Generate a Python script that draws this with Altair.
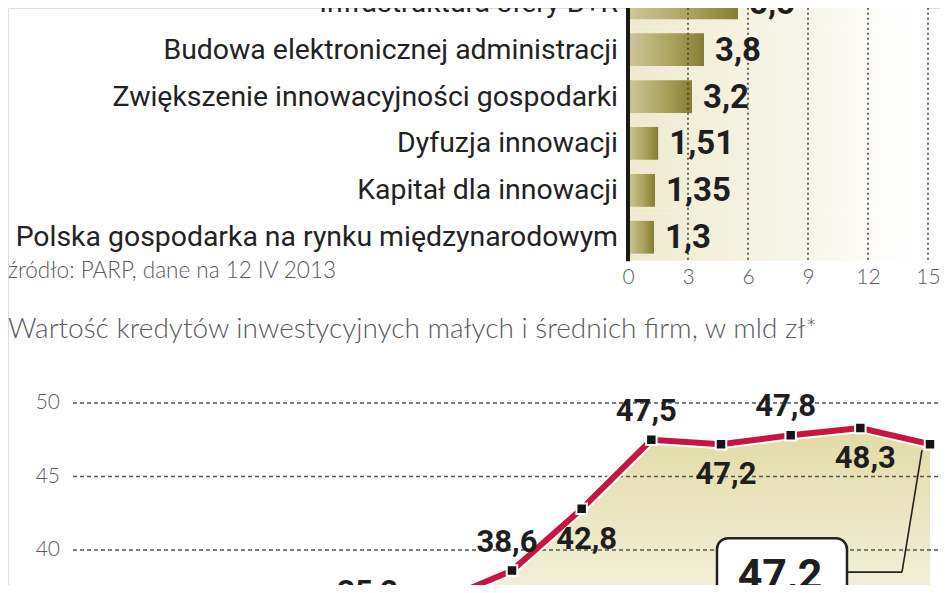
import altair as alt
import pandas as pd

# ---------------- data ----------------
bar_categories = [
    "Infrastruktura sfery B+R",
    "Budowa elektronicznej administracji",
    "Zwiększenie innowacyjności gospodarki",
    "Dyfuzja innowacji",
    "Kapitał dla innowacji",
    "Polska gospodarka na rynku międzynarodowym",
]
bar_values = [5.5, 3.8, 3.2, 1.51, 1.35, 1.3]
bar_ticks = [0, 3, 6, 9, 12, 15]

periods = [
    "I kw. 2010", "II kw. 2010", "III kw. 2010", "IV kw. 2010",
    "I kw. 2011", "II kw. 2011", "III kw. 2011", "IV kw. 2011",
    "I kw. 2012", "II kw. 2012", "III kw. 2012", "IV kw. 2012",
    "I kw. 2013",
]
credit_values = [34.4, 33.5, 34.5, 33.9, 35.2, 36.6, 38.6, 42.8, 47.5, 47.2, 47.8, 48.3, 47.2]
line_ticks = [35, 40, 45, 50]

source_text = "źródło:  PARP, dane na 12 IV 2013"
line_title = "Wartość kredytów inwestycyjnych małych i średnich firm, w mld zł*"

# ---------------- styles ----------------
W, H = 932, 577
BOLD = "Roboto, Liberation Sans, sans-serif"
SANS = "Roboto, Liberation Sans, sans-serif"
LIGHT = "Lato, Roboto, sans-serif"
GRAY = "#5a5a5a"

bar_x = alt.Scale(domain=[0, 15], range=[620, 920], nice=False, zero=False)
bar_y = alt.Scale(domain=bar_categories, range=[-28.7, 252.7], paddingInner=0.3, paddingOuter=0.15)
bar_y_full = alt.Scale(domain=bar_categories, range=[-28.7, 252.7], paddingInner=0, paddingOuter=0)

line_x = alt.Scale(type="point", domain=periods, range=[86, 922], padding=0)
line_y = alt.Scale(domain=[30, 50], range=[689, 395], nice=False, zero=False)

bg_grad = alt.LinearGradient(
    gradient="linear", x1=0, x2=1, y1=0, y2=0,
    stops=[alt.GradientStop(color="#eeead0", offset=0),
           alt.GradientStop(color="#f7f5e8", offset=0.55),
           alt.GradientStop(color="#ffffff", offset=0.95)],
)
bar_grad = alt.LinearGradient(
    gradient="linear", x1=0, x2=1, y1=0, y2=0,
    stops=[alt.GradientStop(color="#cdc79c", offset=0),
           alt.GradientStop(color="#a9a15a", offset=0.6),
           alt.GradientStop(color="#857d30", offset=1)],
)
area_grad = alt.LinearGradient(
    gradient="linear", x1=0, x2=0, y1=0, y2=1,
    stops=[alt.GradientStop(color="#e2dba6", offset=0),
           alt.GradientStop(color="#f1eed5", offset=0.55),
           alt.GradientStop(color="#fbfaf2", offset=1)],
)

bar_df = pd.DataFrame({"cat": bar_categories, "val": bar_values})
grid_df = pd.DataFrame({"t": bar_ticks[1:]})
base_bar = alt.Chart(bar_df)

bg = base_bar.mark_rect(fill=bg_grad).encode(
    y=alt.Y("cat:N", scale=bar_y_full, axis=None),
    x=alt.X(datum=0, type="quantitative", scale=bar_x, axis=None),
    x2=alt.X2(datum=15),
)

bars = base_bar.mark_bar(fill=bar_grad).encode(
    y=alt.Y("cat:N", scale=bar_y, axis=None),
    x=alt.X("val:Q", scale=bar_x, axis=alt.Axis(
        orient="bottom", offset=-323, values=bar_ticks, domain=False, ticks=False,
        grid=False, labelFont=LIGHT, labelFontSize=21, labelFontWeight=300,
        labelColor=GRAY, labelPadding=4, title=None, labelFlush=False)),
)

vgrid = alt.Chart(grid_df).mark_rule(
    strokeDash=[2, 3], color="#444", strokeWidth=1.6, yOffset=-30, y2Offset=23
).encode(
    x=alt.X("t:Q", scale=bar_x, axis=None),
    y=alt.Y(datum=bar_categories[0], type="nominal", scale=bar_y, axis=None, bandPosition=0.5),
    y2=alt.Y2(datum=bar_categories[-1]),
)

zero_line = alt.Chart(pd.DataFrame({"z": [bar_ticks[0]]})).mark_rule(
    color="#1a1a1a", strokeWidth=4, yOffset=-30, y2Offset=24
).encode(
    x=alt.X("z:Q", scale=bar_x, axis=None),
    y=alt.Y(datum=bar_categories[0], type="nominal", scale=bar_y, axis=None, bandPosition=0.5),
    y2=alt.Y2(datum=bar_categories[-1]),
)

val_labels = base_bar.transform_calculate(
    lab="replace(toString(datum.val), '.', ',')"
).mark_text(
    align="left", baseline="middle", dx=11, dy=1, font=BOLD, fontWeight="bold",
    fontSize=33, color="#1e1e1e"
).encode(
    y=alt.Y("cat:N", scale=bar_y, axis=None),
    x=alt.X("val:Q", scale=bar_x, axis=None),
    text="lab:N",
)

cat_labels = base_bar.mark_text(
    align="right", baseline="middle", dx=-10, font=SANS, fontSize=28.4, color="#222"
).encode(
    y=alt.Y("cat:N", scale=bar_y, axis=None),
    x=alt.X(datum=0, type="quantitative", scale=bar_x, axis=None),
    text="cat:N",
)

# ---------------- line chart ----------------
n = len(periods)
line_df = pd.DataFrame({"period": periods, "v": credit_values})
base_line = alt.Chart(line_df).transform_window(rn="row_number()").transform_calculate(
    i0="datum.rn - 1"
)
lx = alt.X("period:O", scale=line_x, axis=None)
ly = alt.Y("v:Q", scale=line_y, axis=None)

area = base_line.mark_area(fill=area_grad).encode(
    x=lx, y=ly, y2=alt.Y2(datum=line_ticks[0] - 5)
)

hgrid = alt.Chart(pd.DataFrame({"t": line_ticks})).mark_rule(
    strokeDash=[4, 3], color="#555", strokeWidth=1.3, xOffset=-21, x2Offset=15
).encode(
    y=alt.Y("t:Q", scale=line_y, axis=None),
    x=alt.X(datum=periods[0], type="ordinal", scale=line_x, axis=None),
    x2=alt.X2(datum=periods[-1]),
)

ylabels = alt.Chart(pd.DataFrame({"t": line_ticks})).mark_text(
    align="right", baseline="middle", dx=-34, font=LIGHT, fontWeight=300,
    fontSize=21, color=GRAY
).encode(
    y=alt.Y("t:Q", scale=line_y, axis=None),
    x=alt.X(datum=periods[0], type="ordinal", scale=line_x, axis=None),
    text="t:Q",
)

casing = base_line.mark_line(color="white", strokeWidth=10).encode(x=lx, y=ly)
redline = base_line.mark_line(color="#c8143e", strokeWidth=6).encode(x=lx, y=ly)
pts = base_line.mark_point(
    shape="square", filled=True, size=110, fill="#141414", stroke="white",
    strokeWidth=2, opacity=1
).encode(x=lx, y=ly)

lab_base = base_line.transform_calculate(
    lab="replace(toString(datum.v), '.', ',')"
)
labels_above = lab_base.transform_filter(
    f"datum.i0 % 2 == 0 && datum.i0 < {n - 1}"
).mark_text(
    align="center", baseline="middle", dx=-5, dy=-28, font=BOLD, fontWeight="bold",
    fontSize=31, color="#1e1e1e"
).encode(x=lx, y=ly, text="lab:N")
labels_below = lab_base.transform_filter(
    f"datum.i0 % 2 == 1 && datum.i0 < {n - 1}"
).mark_text(
    align="center", baseline="middle", dx=5, dy=31, font=BOLD, fontWeight="bold",
    fontSize=31, color="#1e1e1e"
).encode(x=lx, y=ly, text="lab:N")

last_df = pd.DataFrame({"period": [periods[-1]], "v": [credit_values[-1]]})
last_base = alt.Chart(last_df).transform_calculate(
    lab="replace(toString(datum.v), '.', ',')"
)
box = last_base.mark_rect(
    fill="white", stroke="#222", strokeWidth=2.5, cornerRadius=11,
    xOffset=-213, x2Offset=-83, yOffset=94, y2Offset=175
).encode(
    x=lx, x2=alt.X2("period:O"), y=ly, y2=alt.Y2("v:Q"),
)
conn1 = last_base.mark_rule(
    color="#222", strokeWidth=1.6, xOffset=-83, x2Offset=-28, yOffset=128, y2Offset=128
).encode(x=lx, x2=alt.X2("period:O"), y=ly, y2=alt.Y2("v:Q"))
conn2 = last_base.mark_rule(
    color="#222", strokeWidth=1.6, xOffset=-28, x2Offset=-8, yOffset=128, y2Offset=6
).encode(x=lx, x2=alt.X2("period:O"), y=ly, y2=alt.Y2("v:Q"))
box_text = last_base.mark_text(
    align="center", baseline="middle", dx=-150, dy=132, font=BOLD,
    fontWeight="bold", fontSize=43, color="#1e1e1e"
).encode(x=lx, y=ly, text="lab:N")

# ---------------- annotations ----------------
src = alt.Chart(pd.DataFrame({"t": [source_text]})).mark_text(
    align="left", baseline="middle", font=LIGHT, fontWeight=300, fontSize=22.5, color=GRAY
).encode(text="t:N", x=alt.value(0), y=alt.value(263))
ttl = alt.Chart(pd.DataFrame({"t": [line_title]})).mark_text(
    align="left", baseline="middle", font=LIGHT, fontWeight=300, fontSize=28, color=GRAY
).encode(text="t:N", x=alt.value(0), y=alt.value(322))

chart = alt.layer(
    bg, bars, vgrid, zero_line, val_labels, cat_labels,
    area, hgrid, ylabels, casing, redline, pts, labels_above, labels_below,
    conn1, conn2, box, box_text, src, ttl,
).resolve_scale(x="independent", y="independent").properties(
    width=W, height=H, padding=0,
    autosize=alt.AutoSizeParams(type="none"),
).configure_view(stroke=None).configure(background="white")

chart.save("out.html", embed_options={"renderer": "svg", "actions": False})
